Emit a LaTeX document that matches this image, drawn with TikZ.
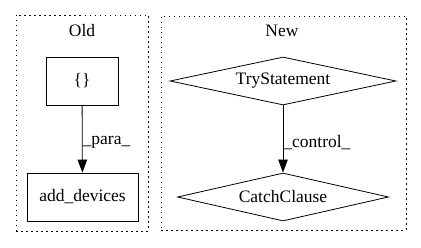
\documentclass[tikz,border=0pt]{standalone}
\usepackage{fontspec}
\setmainfont{Liberation Serif}
\usepackage{tikz}
\usetikzlibrary{arrows.meta}
\usetikzlibrary{shapes.geometric}

\tikzset{
	cluster/.style={draw, dash pattern=on 1.5pt off 3.5pt, thick, inner sep=0pt},
	box/.style={draw, thick, inner sep=0pt, minimum height=48pt},
	test/.style={draw, thick, diamond, aspect=4.7, inner sep=0pt, minimum height=48pt},
	edge/.style={-{Triangle[length=13pt, width=9.5pt]}, thick},
}

\begin{document}
\begin{tikzpicture}[x=1pt, y=-1pt, font=\fontsize{17.5}{20}\selectfont]
	
	\useasboundingbox (0,0) rectangle (421,248);
	
	%clusters
	\node[cluster, minimum width=132pt, minimum height=216pt] (old) at (82,123) {};
	\node[cluster, minimum width=245pt, minimum height=214pt] (new) at (283.5,123) {};
	\node (oldlabel) at (82,31) {Old};
	\node (newlabel) at (282,31) {New};
	
	%old side
	\node[box, minimum width=72pt] (brace) at (82,81) {\{\}};
	\node[box, minimum width=111pt] (adddev) at (82.5,197) {add\_devices};
	
	%new side
	\node[test, minimum width=226pt] (try) at (283,81) {TryStatement};
	\node[test, minimum width=211pt] (catch) at (283,197) {CatchClause};
	
	%arrows
	\draw[edge] (brace) -- (adddev) node[pos=0.55, right, inner sep=0pt] {\_para\_};
	\draw[edge] (try) -- (catch) node[pos=0.55, right, inner sep=0pt] {\_control\_};
	
\end{tikzpicture}
\end{document}
